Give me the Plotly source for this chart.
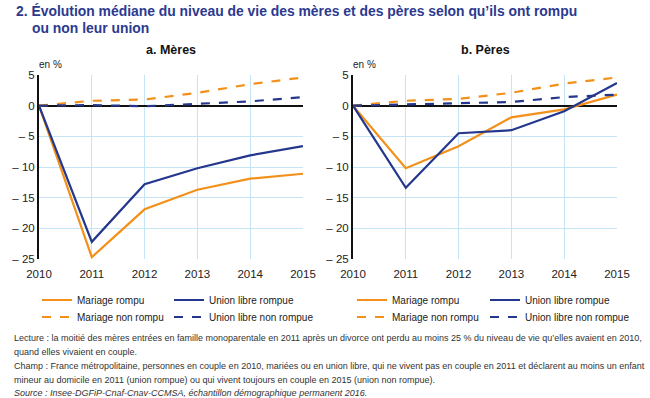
import plotly.graph_objects as go

years = [2010, 2011, 2012, 2013, 2014, 2015]

# a. Mères
meres_mariage_rompu = [0, -24.7, -16.9, -13.7, -11.9, -11.1]
meres_union_rompue = [0, -22.2, -12.8, -10.2, -8.1, -6.6]
meres_mariage_non_rompu = [0, 0.8, 1.0, 2.1, 3.5, 4.6]
meres_union_non_rompue = [0, 0.1, -0.1, 0.3, 0.7, 1.4]

# b. Pères
peres_mariage_rompu = [0, -10.2, -6.6, -1.9, -0.6, 1.8]
peres_union_rompue = [0, -13.4, -4.5, -4.0, -0.9, 3.7]
peres_mariage_non_rompu = [0, 0.8, 1.1, 2.1, 3.6, 4.6]
peres_union_non_rompue = [0, 0.2, 0.3, 0.6, 1.4, 1.8]

y_ticks = [5, 0, -5, -10, -15, -20, -25]
y_ticktext = ["5", "0", "– 5", "– 10", "– 15", "– 20", "– 25"]

ORANGE = "#F39019"
NAVY = "#24378C"
GRID = "#C5E4F5"
FONT = "Liberation Sans, Arial, sans-serif"

fig = go.Figure()

def add(x, y, name, color, dash, xa, ya, legend):
    fig.add_trace(go.Scatter(
        x=x, y=y, name=name, mode="lines",
        line=dict(color=color, width=2.2, dash=dash),
        xaxis=xa, yaxis=ya, legend=legend, hoverinfo="skip"))

add(years, meres_mariage_rompu, "Mariage rompu", ORANGE, "solid", "x", "y", "legend")
add(years, meres_union_rompue, "Union libre rompue", NAVY, "solid", "x", "y", "legend2")
add(years, meres_mariage_non_rompu, "Mariage non rompu", ORANGE, "dash", "x", "y", "legend3")
add(years, meres_union_non_rompue, "Union libre non rompue", NAVY, "dash", "x", "y", "legend4")

add(years, peres_mariage_rompu, "Mariage rompu", ORANGE, "solid", "x2", "y2", "legend5")
add(years, peres_union_rompue, "Union libre rompue", NAVY, "solid", "x2", "y2", "legend6")
add(years, peres_mariage_non_rompu, "Mariage non rompu", ORANGE, "dash", "x2", "y2", "legend7")
add(years, peres_union_non_rompue, "Union libre non rompue", NAVY, "dash", "x2", "y2", "legend8")

W, H = 650, 398
L, R, T, B = 39, 33, 75, 139
pw = W - L - R
ph = H - T - B
d1 = [0, (303 - L) / pw]
d2 = [(353 - L) / pw, 1]

def xax(domain, anchor):
    return dict(domain=domain, anchor=anchor, range=[2010, 2015], tickvals=years,
                showgrid=True, gridcolor=GRID, gridwidth=1, zeroline=False,
                showline=False, ticks="", ticklabelstandoff=6,
                tickfont=dict(size=11.5, color="#222", family=FONT),
                fixedrange=True)

def yax(anchor):
    return dict(domain=[0, 1], anchor=anchor, range=[-25, 5], tickvals=y_ticks,
                ticktext=y_ticktext, showgrid=True, gridcolor=GRID, gridwidth=1,
                zeroline=True, zerolinecolor="#111", zerolinewidth=1.6,
                showline=True, linecolor="#111", linewidth=2,
                ticks="", tickfont=dict(size=11.5, color="#222", family=FONT), fixedrange=True)

def px_x(p):
    return (p - L) / pw

def px_y(p):
    return (H - B - p) / ph

def leg(text_x, y):
    return dict(x=px_x(text_x - 40), y=px_y(y), xref="paper", yref="paper",
                xanchor="left", yanchor="middle", orientation="h",
                font=dict(size=10, color="#222", family=FONT), bgcolor="rgba(0,0,0,0)",
                itemwidth=30, borderwidth=0)

fig.update_layout(
    width=W, height=H, margin=dict(l=L, r=R, t=T, b=B, autoexpand=False),
    paper_bgcolor="white", plot_bgcolor="white",
    font=dict(family=FONT, color="#222"),
    xaxis=xax(d1, "y"), yaxis=yax("x"),
    xaxis2=xax(d2, "y2"), yaxis2=yax("x2"),
    legend=leg(77, 300),
    legend2=leg(209, 300),
    legend3=leg(77, 317),
    legend4=leg(209, 317),
    legend5=leg(392, 300),
    legend6=leg(525, 300),
    legend7=leg(392, 317),
    legend8=leg(525, 317),
    showlegend=True,
)

TITLE_C = "#2B3A8F"
annotations = [
    dict(text="<b>2. Évolution médiane du niveau de vie des mères et des pères selon qu’ils ont rompu</b>",
         x=px_x(14), y=px_y(11), xanchor="left", yanchor="middle",
         font=dict(size=13.9, color=TITLE_C, family=FONT)),
    dict(text="<b>ou non leur union</b>",
         x=px_x(30), y=px_y(28), xanchor="left", yanchor="middle",
         font=dict(size=13.9, color=TITLE_C, family=FONT)),
    dict(text="<b>a. Mères</b>", x=sum(d1) / 2, y=px_y(50), xanchor="center", yanchor="middle",
         font=dict(size=12.5, color="#111", family=FONT)),
    dict(text="<b>b. Pères</b>", x=sum(d2) / 2, y=px_y(50), xanchor="center", yanchor="middle",
         font=dict(size=12.5, color="#111", family=FONT)),
    dict(text="en %", x=px_x(37), y=px_y(64), xanchor="left", yanchor="middle",
         font=dict(size=10, color="#222", family=FONT)),
    dict(text="en %", x=px_x(351), y=px_y(64), xanchor="left", yanchor="middle",
         font=dict(size=10, color="#222", family=FONT)),
]
foot_lines = [
    "Lecture : la moitié des mères entrées en famille monoparentale en 2011 après un divorce ont perdu au moins 25 % du niveau de vie qu’elles avaient en 2010,",
    "quand elles vivaient en couple.",
    "Champ : France métropolitaine, personnes en couple en 2010, mariées ou en union libre, qui ne vivent pas en couple en 2011 et déclarent au moins un enfant",
    "mineur au domicile en 2011 (union rompue) ou qui vivent toujours en couple en 2015 (union non rompue).",
    "<i>Source : Insee-DGFiP-Cnaf-Cnav-CCMSA, échantillon démographique permanent 2016.</i>",
]
foot_y = [338, 352, 366, 380, 393]
for txt, yy in zip(foot_lines, foot_y):
    annotations.append(dict(text=txt, x=px_x(12), y=px_y(yy), xanchor="left", yanchor="middle",
                            font=dict(size=9.0, color="#333", family=FONT)))
for a in annotations:
    a.update(xref="paper", yref="paper", showarrow=False)
fig.update_layout(annotations=annotations)

fig.write_html("out.html", config={"displayModeBar": False},
               post_script="document.body.style.margin='0';")
